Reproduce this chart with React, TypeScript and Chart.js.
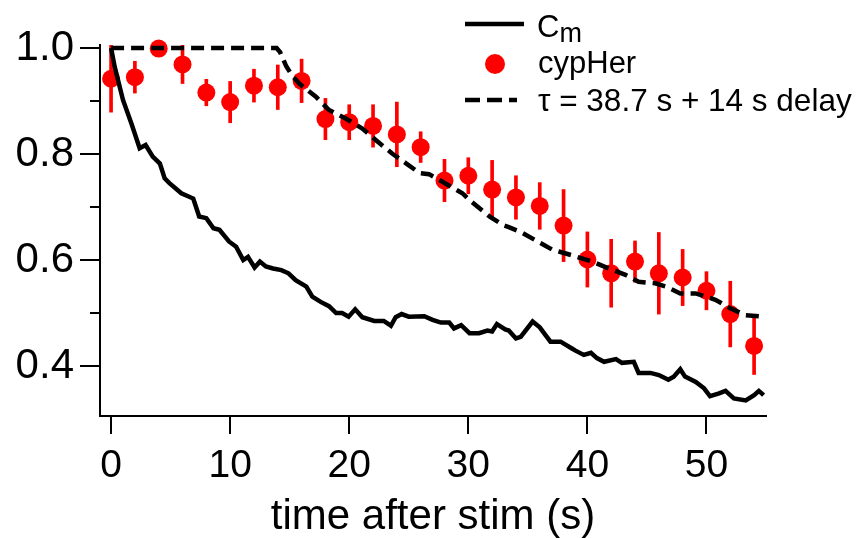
import React, { useEffect, useRef } from "react";
import { Chart, registerables } from "chart.js";

Chart.register(...registerables);

// ---- data ----
const cmTime = [0, 0.3, 1.0, 1.7, 2.4, 2.9, 3.5, 4.1, 4.5, 4.9, 5.9, 6.9, 7.4, 8.0, 8.6, 9.1, 9.9, 10.5, 11.1, 11.5, 12.05, 12.5, 13.0, 13.6, 14.3, 14.9, 15.5, 16.4, 16.9, 17.6, 18.3, 18.9, 19.4, 19.95, 20.5, 21.1, 22.1, 22.9, 23.5, 23.9, 24.4, 25.0, 26.3, 27.0, 27.7, 28.4, 28.8, 29.4, 30.1, 30.9, 31.6, 32.0, 32.4, 33.1, 33.4, 34.0, 34.4, 35.4, 36.0, 36.5, 36.9, 37.75, 38.7, 39.0, 39.7, 40.3, 40.8, 41.4, 42.4, 42.9, 43.9, 44.3, 45.3, 46.0, 46.8, 47.25, 47.8, 48.2, 49.1, 49.8, 50.3, 51.0, 51.6, 52.3, 53.3, 54.0, 54.4, 54.8];
const cmValue = [1.0, 0.965, 0.902, 0.858, 0.811, 0.817, 0.795, 0.782, 0.754, 0.745, 0.726, 0.716, 0.682, 0.679, 0.66, 0.657, 0.635, 0.625, 0.6, 0.606, 0.586, 0.597, 0.588, 0.584, 0.581, 0.575, 0.562, 0.55, 0.531, 0.521, 0.513, 0.5, 0.5, 0.493, 0.507, 0.492, 0.485, 0.485, 0.476, 0.492, 0.498, 0.493, 0.494, 0.487, 0.482, 0.482, 0.471, 0.477, 0.462, 0.462, 0.467, 0.465, 0.479, 0.469, 0.467, 0.452, 0.455, 0.484, 0.473, 0.458, 0.446, 0.446, 0.433, 0.429, 0.421, 0.425, 0.415, 0.408, 0.413, 0.406, 0.408, 0.387, 0.387, 0.383, 0.374, 0.38, 0.394, 0.38, 0.37, 0.358, 0.343, 0.348, 0.353, 0.339, 0.335, 0.345, 0.353, 0.345];

const cypTime = [0, 2, 4, 6, 8, 10, 12, 14, 16, 18, 20, 22, 24, 26, 28, 30, 32, 34, 36, 38, 40, 42, 44, 46, 48, 50, 52, 54];
const cypValue = [0.942, 0.945, 0.999, 0.969, 0.916, 0.898, 0.929, 0.926, 0.938, 0.866, 0.86, 0.853, 0.837, 0.813, 0.75, 0.759, 0.733, 0.718, 0.702, 0.665, 0.601, 0.575, 0.597, 0.575, 0.567, 0.542, 0.498, 0.438];
const cypError = [0.063, 0.03, 0.0, 0.036, 0.025, 0.039, 0.031, 0.042, 0.041, 0.039, 0.033, 0.04, 0.061, 0.029, 0.04, 0.034, 0.055, 0.041, 0.044, 0.068, 0.052, 0.064, 0.039, 0.077, 0.053, 0.036, 0.062, 0.054];

const fitTime = [0, 13.9, 14.2, 14.7, 15.2, 15.8, 17.2, 18.3, 19.7, 21.1, 22.25, 23.6, 24.8, 25.9, 26.7, 27.8, 29.5, 30.1, 31.8, 32.9, 33.4, 34.4, 35.9, 37.1, 37.6, 38.7, 40.4, 41.8, 43.2, 44.3, 45.7, 46.6, 47.8, 49.1, 50.75, 52.0, 53.3, 54.4];
const fitValue = [1.0, 1.0, 0.992, 0.966, 0.948, 0.933, 0.908, 0.883, 0.867, 0.848, 0.826, 0.801, 0.782, 0.764, 0.762, 0.748, 0.726, 0.713, 0.682, 0.666, 0.662, 0.653, 0.634, 0.619, 0.616, 0.609, 0.597, 0.584, 0.572, 0.559, 0.556, 0.55, 0.537, 0.537, 0.525, 0.509, 0.496, 0.494];

const xTicks = [0, 10, 20, 30, 40, 50];
const yMajorTicks = [0.4, 0.6, 0.8, 1.0];
const yMinorTicks = [0.5, 0.7, 0.9];
const xTitle = "time after stim (s)";
const legendLabels = ["C", "cypHer", "\u03c4 = 38.7 s + 14 s delay"];
const legendSubscript = "m";

const FONT = '"Liberation Sans", Arial, sans-serif';
const RED = "#ff0000";

const legendPlugin = {
  id: "customLegend",
  afterDraw(chart: any) {
    const ctx = chart.ctx as CanvasRenderingContext2D;
    ctx.save();
    ctx.textAlign = "left";
    ctx.textBaseline = "alphabetic";
    // Cm
    ctx.strokeStyle = "#000";
    ctx.lineWidth = 4.5;
    ctx.setLineDash([]);
    ctx.beginPath();
    ctx.moveTo(465, 24);
    ctx.lineTo(524, 24);
    ctx.stroke();
    ctx.fillStyle = "#000";
    ctx.font = `31px ${FONT}`;
    ctx.fillText(legendLabels[0], 537, 37);
    const cw = ctx.measureText(legendLabels[0]).width;
    ctx.font = `27px ${FONT}`;
    ctx.fillText(legendSubscript, 537 + cw, 42);
    // cypHer
    ctx.fillStyle = RED;
    ctx.beginPath();
    ctx.arc(495, 64, 10, 0, Math.PI * 2);
    ctx.fill();
    ctx.fillStyle = "#000";
    ctx.font = `31px ${FONT}`;
    ctx.fillText(legendLabels[1], 538, 73);
    // fit
    ctx.strokeStyle = "#000";
    ctx.lineWidth = 4.5;
    ctx.setLineDash([15, 7]);
    ctx.beginPath();
    ctx.moveTo(465, 100);
    ctx.lineTo(517, 100);
    ctx.stroke();
    ctx.setLineDash([]);
    ctx.font = `31.5px ${FONT}`;
    ctx.fillText(legendLabels[2], 538, 111);
    ctx.restore();
  },
};

export default function App() {
  const ref = useRef<HTMLCanvasElement | null>(null);

  useEffect(() => {
    if (!ref.current) return;
    const chart = new Chart(ref.current, {
      type: "line",
      data: {
        datasets: [
          {
            type: "line",
            label: "Cm",
            data: cmTime.map((t, i) => ({ x: t, y: cmValue[i] })),
            borderColor: "#000",
            borderWidth: 4.5,
            pointRadius: 0,
            tension: 0,
            fill: false,
            clip: false as any,
            order: 0,
          },
          {
            type: "line",
            label: "fit",
            data: fitTime.map((t, i) => ({ x: t, y: fitValue[i] })),
            borderColor: "#000",
            borderWidth: 4.5,
            borderDash: [13, 7],
            borderCapStyle: "butt",
            pointRadius: 0,
            tension: 0,
            fill: false,
            clip: false as any,
            order: 1,
          },
          {
            type: "line",
            label: "cypHer",
            data: cypTime.map((t, i) => ({ x: t, y: cypValue[i] })),
            showLine: false,
            pointRadius: 9,
            pointBackgroundColor: RED,
            pointBorderWidth: 0,
            pointBorderColor: RED,
            clip: false as any,
            order: 2,
          },
          {
            type: "bar",
            label: "cypHer error",
            data: cypTime.map((t, i) => ({ x: t, y: [cypValue[i] - cypError[i], cypValue[i] + cypError[i]] })) as any,
            backgroundColor: RED,
            borderWidth: 0,
            barThickness: 3,
            clip: false as any,
            order: 3,
          } as any,
        ],
      },
      options: {
        animation: false,
        responsive: false,
        events: [],
        layout: { padding: { top: 45, right: 95, left: 0, bottom: 0 } },
        plugins: { legend: { display: false }, tooltip: { enabled: false } },
        scales: {
          x: {
            type: "linear",
            min: -0.93,
            max: 55,
            offset: false,
            afterBuildTicks: (s: any) => {
              s.ticks = xTicks.map((v) => ({ value: v }));
            },
            afterFit: (s: any) => {
              s.height = 122;
            },
            grid: { drawOnChartArea: false, offset: false, tickLength: 18, tickWidth: 2, tickColor: "#000", lineWidth: 2, color: "#000" },
            border: { display: true, color: "#000", width: 2 },
            ticks: { color: "#000", font: { family: FONT, size: 39, lineHeight: 1.2 }, padding: 9, maxRotation: 0, autoSkip: false },
            title: { display: true, text: xTitle, color: "#000", font: { family: FONT, size: 42, lineHeight: 1 }, padding: 0 },
          },
          y: {
            type: "linear",
            min: 0.3057,
            max: 1.0057,
            weight: 1,
            afterBuildTicks: (s: any) => {
              s.ticks = yMajorTicks.map((v) => ({ value: v }));
            },
            afterFit: (s: any) => {
              s.width = 100;
            },
            grid: { drawOnChartArea: false, tickLength: 20, tickWidth: 2, tickColor: "#000", lineWidth: 2, color: "#000" },
            border: { display: true, color: "#000", width: 2 },
            ticks: { color: "#000", font: { family: FONT, size: 42 }, padding: 6, callback: (v: any) => Number(v).toFixed(1) },
          },
          yMinor: {
            type: "linear",
            position: "left",
            min: 0.3057,
            max: 1.0057,
            weight: 0,
            afterBuildTicks: (s: any) => {
              s.ticks = yMinorTicks.map((v) => ({ value: v }));
            },
            afterFit: (s: any) => {
              s.width = 0;
            },
            grid: { drawOnChartArea: false, tickLength: 10, tickWidth: 2, tickColor: "#000", lineWidth: 2, color: "#000" },
            border: { display: false },
            ticks: { display: true, callback: () => "", padding: 0, font: { size: 1 } },
          },
        },
      } as any,
      plugins: [legendPlugin],
    });
    return () => chart.destroy();
  }, []);

  return (
    <div style={{ position: "absolute", left: 0, top: 0, width: 861, height: 538, background: "#fff" }}>
      <canvas ref={ref} width={861} height={538} style={{ display: "block" }} />
    </div>
  );
}
